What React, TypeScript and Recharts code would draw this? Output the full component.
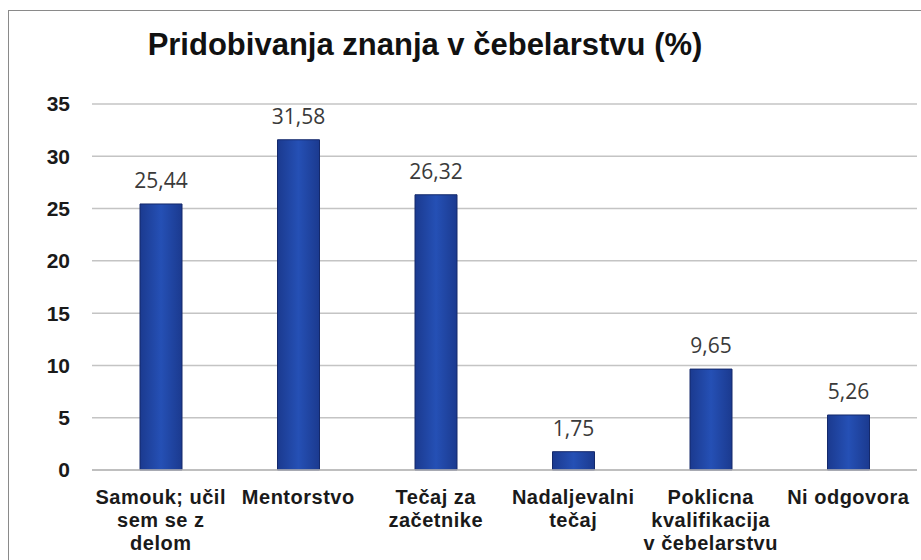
import React from "react";
import { BarChart, Bar, XAxis, YAxis, CartesianGrid, LabelList } from "recharts";

const categories = [
  "Samouk; učil\nsem se z\ndelom",
  "Mentorstvo",
  "Tečaj za\nzačetnike",
  "Nadaljevalni\ntečaj",
  "Poklicna\nkvalifikacija\nv čebelarstvu",
  "Ni odgovora",
];
const values = [25.44, 31.58, 26.32, 1.75, 9.65, 5.26];
const yTicks = [0, 5, 10, 15, 20, 25, 30, 35];
const title = "Pridobivanja znanja v čebelarstvu (%)";

const data = categories.map((c, i) => ({ name: c, value: values[i] }));

const XTick = (props: any) => {
  const { x, y, payload } = props;
  const lines = String(payload.value).split("\n");
  return (
    <text
      x={x}
      y={y}
      textAnchor="middle"
      fontFamily="'Liberation Sans', Arial, sans-serif"
      fontWeight="bold"
      fontSize={20}
      letterSpacing={0.5}
      fill="#1a1a1a"
    >
      {lines.map((l, i) => (
        <tspan key={i} x={x} dy={i === 0 ? 26 : 23}>
          {l}
        </tspan>
      ))}
    </text>
  );
};

export default function App() {
  return (
    <div
      style={{
        position: "fixed",
        left: 0,
        top: 0,
        width: 921,
        height: 560,
        overflow: "hidden",
        background: "#ffffff",
      }}
    >
      <div
        style={{
          position: "absolute",
          left: 8,
          top: 10,
          width: 940,
          height: 600,
          borderTop: "1px solid #8a8a8a",
          borderLeft: "1px solid #8a8a8a",
          boxSizing: "border-box",
        }}
      />
      <div
        style={{
          position: "absolute",
          left: 0,
          top: 29,
          width: 850,
          textAlign: "center",
          fontFamily: "'Liberation Sans', Arial, sans-serif",
          fontWeight: "bold",
          fontSize: 31,
          lineHeight: "31px",
          color: "#111",
        }}
      >
        {title}
      </div>
      <div style={{ position: "absolute", left: 0, top: 0 }}>
        <BarChart
          width={921}
          height={560}
          data={data}
          margin={{ top: 104, right: 4, bottom: 0, left: 0 }}
        >
          <defs>
            <linearGradient id="barGrad" x1="0" y1="0" x2="1" y2="0">
              <stop offset="0%" stopColor="#1b3a8f" />
              <stop offset="50%" stopColor="#2550b5" />
              <stop offset="100%" stopColor="#1b3a8f" />
            </linearGradient>
          </defs>
          <CartesianGrid vertical={false} stroke="#c4c4c4" strokeWidth={1.5} />
          <XAxis
            dataKey="name"
            interval={0}
            tickLine={false}
            axisLine={{ stroke: "#b8b8b8", strokeWidth: 1.5 }}
            tick={<XTick />}
            height={90}
          />
          <YAxis
            domain={[0, 35]}
            ticks={yTicks}
            width={92}
            axisLine={false}
            tickLine={false}
            tickSize={0}
            tickMargin={22}
            tick={{
              fontFamily: "'Liberation Sans', Arial, sans-serif",
              fontSize: 21,
              fontWeight: "bold",
              fill: "#1a1a1a",
            }}
          />
          <Bar
            dataKey="value"
            barSize={42}
            fill="url(#barGrad)"
            stroke="#14296b"
            strokeWidth={1}
            isAnimationActive={false}
          >
            <LabelList
              dataKey="value"
              position="top"
              offset={16}
              formatter={(v: any) => String(Number(v).toFixed(2)).replace(".", ",")}
              style={{
                fontFamily: "'Open Sans', sans-serif",
                fontSize: 21,
                fill: "#3a3a3a",
              }}
            />
          </Bar>
        </BarChart>
      </div>
    </div>
  );
}
